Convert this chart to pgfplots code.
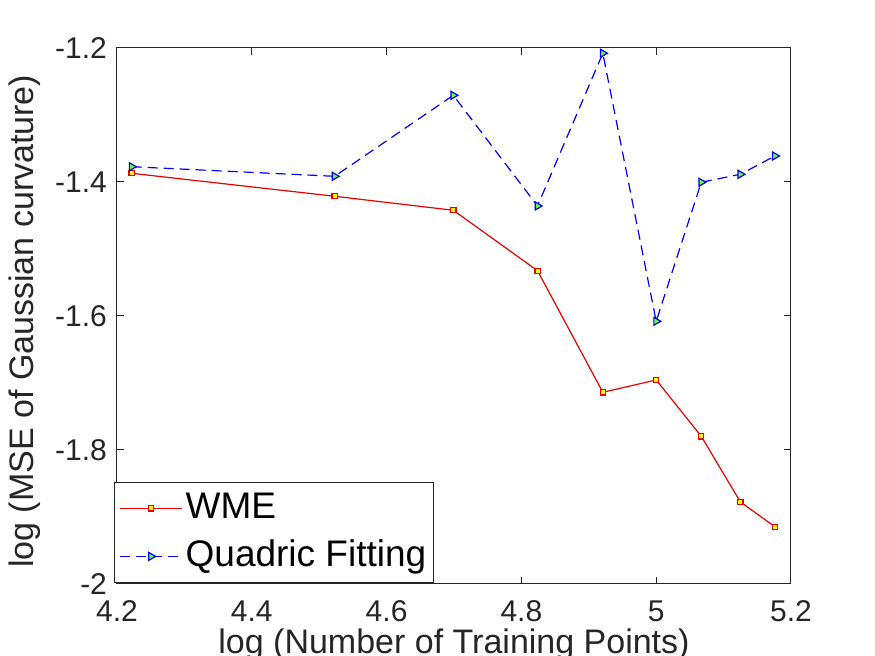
\documentclass[border=0pt]{standalone}
\usepackage{fontspec}
\setmainfont{Liberation Sans}
\usepackage{pgfplots}
\pgfplotsset{compat=1.18}
\definecolor{axgray}{rgb}{0.15,0.15,0.15}
\definecolor{mred}{rgb}{0.93,0,0}
\definecolor{mblue}{rgb}{0,0,1}
\definecolor{myel}{rgb}{1,1,0}
\definecolor{mgreen}{rgb}{0.4,1,0.2}
\begin{document}
\begin{tikzpicture}
\path[use as bounding box] (-58.5pt,-36pt) rectangle (379pt,292pt);
\clip (-58.5pt,-36pt) rectangle (379pt,292pt);
\fill[white] (-58.5pt,-36pt) rectangle (379pt,292pt);
\begin{axis}[
  at={(0pt,0pt)}, anchor=south west,
  scale only axis, width=337pt, height=268pt,
  xmin=4.2, xmax=5.2, ymin=-2, ymax=-1.2,
  xtick={4.2,4.4,4.6,4.8,5,5.2},
  ytick={-2,-1.8,-1.6,-1.4,-1.2},
  /pgf/number format/assume math mode=true,
  tick align=inside,
  major tick length=3.3pt,
  axis line style={axgray, line width=0.5pt},
  every tick/.style={axgray, line width=0.5pt},
  tick label style={font=\fontsize{15}{18}\selectfont, text=axgray},
  xticklabel style={yshift=-5pt},
  yticklabel style={xshift=-1.5pt},
  xlabel={log (Number of Training Points)},
  ylabel={log (MSE of Gaussian curvature)},
  label style={font=\fontsize{17}{20}\selectfont, text=axgray},
  xlabel style={anchor=base, at={(axis description cs:0.5,-0.1306)}},
  ylabel style={anchor=base, at={(axis description cs:-0.1246,0.49)}},
  legend style={at={(axis description cs:-0.0045,0.002)}, anchor=south west,
    draw=axgray, line width=0.5pt, fill=white,
    inner xsep=2.5pt, inner ysep=3.25pt, row sep=4.5pt, column sep=0.5pt,
    font=\fontsize{18.5}{22}\selectfont,
    nodes={inner sep=1pt, text height=13.8pt, text depth=3.7pt}},
  legend cell align=left,
  legend image code/.code={\draw[mark repeat=2,mark phase=2] plot coordinates {(0pt,0pt) (15.5pt,0pt) (31pt,0pt)};},
]
\addplot[mred, line width=0.6pt, mark=square*, mark size=1.3pt,
  mark options={solid, fill=myel, draw=mred, line width=0.6pt}]
  coordinates {
  (4.2218,-1.387) (4.5229,-1.4213) (4.6990,-1.4422) (4.8239,-1.5324)
  (4.9208,-1.7139) (5.0000,-1.6955) (5.0669,-1.7796) (5.1249,-1.8776)
  (5.1761,-1.9145)};
\addlegendentry{WME}
\addplot[mblue, line width=0.6pt, dash pattern=on 5pt off 3pt, mark=triangle*, mark size=2.3pt,
  mark options={solid, rotate=-90, fill=mgreen, draw=mblue, line width=0.6pt}]
  coordinates {
  (4.2218,-1.3772) (4.5229,-1.3915) (4.6990,-1.2706) (4.8239,-1.4358)
  (4.9208,-1.2079) (5.0000,-1.6079) (5.0669,-1.4004) (5.1249,-1.3885)
  (5.1761,-1.3612)};
\addlegendentry{Quadric Fitting}
\end{axis}
\end{tikzpicture}
\end{document}
